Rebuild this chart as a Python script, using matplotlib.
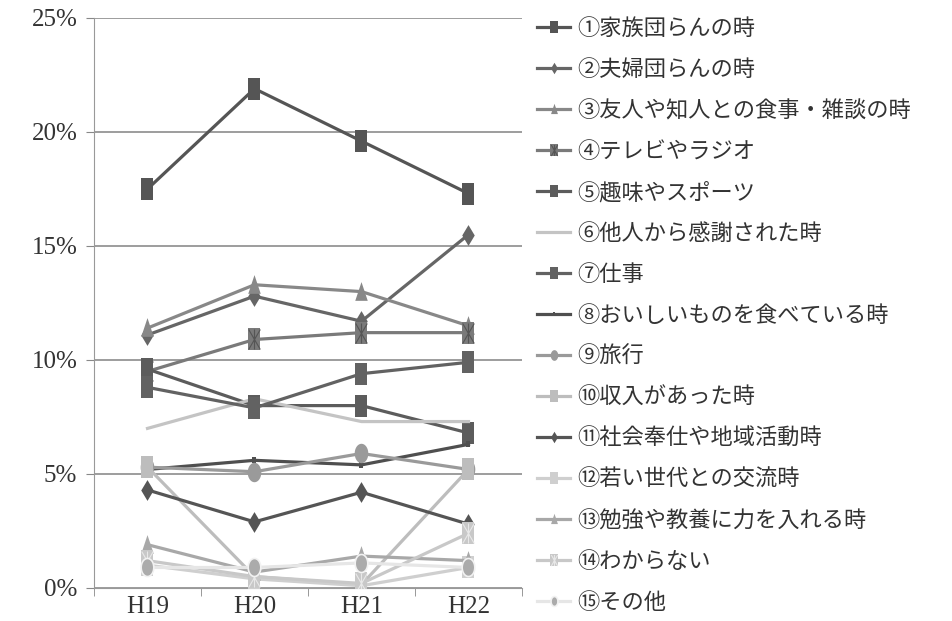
import matplotlib.pyplot as plt
import numpy as np
from matplotlib.path import Path

plt.rcParams['font.family'] = ['Noto Sans CJK JP', 'DejaVu Sans']

years = ["H19", "H20", "H21", "H22"]
labels = [
    "①家族団らんの時", "②夫婦団らんの時", "③友人や知人との食事・雑談の時",
    "④テレビやラジオ", "⑤趣味やスポーツ", "⑥他人から感謝された時", "⑦仕事",
    "⑧おいしいものを食べている時", "⑨旅行", "⑩収入があった時",
    "⑪社会奉仕や地域活動時", "⑫若い世代との交流時", "⑬勉強や教養に力を入れる時",
    "⑭わからない", "⑮その他",
]
# percent values
s01 = [17.5, 21.9, 19.6, 17.3]
s02 = [11.1, 12.8, 11.7, 15.5]
s03 = [11.4, 13.3, 13.0, 11.5]
s04 = [9.5, 10.9, 11.2, 11.2]
s05 = [9.6, 8.0, 8.0, 6.8]
s06 = [7.0, 8.3, 7.3, 7.3]
s07 = [8.8, 7.9, 9.4, 9.9]
s08 = [5.2, 5.6, 5.4, 6.3]
s09 = [5.3, 5.1, 5.9, 5.2]
s10 = [5.3, 0.5, 0.15, 5.2]
s11 = [4.3, 2.9, 4.2, 2.8]
s12 = [1.0, 0.4, 0.1, 0.9]
s13 = [1.9, 0.7, 1.4, 1.2]
s14 = [1.2, 0.5, 0.2, 2.4]
s15 = [0.9, 0.9, 1.1, 0.9]
series = [s01, s02, s03, s04, s05, s06, s07, s08, s09, s10, s11, s12, s13, s14, s15]

# squeezed marker shapes (the original picture is horizontally compressed)
sq = [(-0.58, -1), (0.58, -1), (0.58, 1), (-0.58, 1), (-0.58, -1)]
dia = [(0, -1), (0.6, 0), (0, 1), (-0.6, 0), (0, -1)]
tri = [(-0.6, -0.8), (0.6, -0.8), (0, 1), (-0.6, -0.8)]
th = np.linspace(0, 2 * np.pi, 40)
ell = list(zip(0.7 * np.cos(th), np.sin(th)))
xmark = Path([(-0.58, -1), (0.58, 1), (0.58, -1), (-0.58, 1), (0, -1), (0, 1)],
             [Path.MOVETO, Path.LINETO, Path.MOVETO, Path.LINETO, Path.MOVETO, Path.LINETO])

# line colour, marker, marker size, marker face, marker edge, overlay X colour
styles = [
    ("#555555", sq, 16, None, None, None),
    ("#666666", dia, 15, None, None, None),
    ("#888888", tri, 15, None, None, None),
    ("#7a7a7a", sq, 16, None, None, "#555555"),
    ("#5c5c5c", sq, 16, None, None, None),
    ("#c4c4c4", None, 0, None, None, None),
    ("#626262", sq, 16, None, None, None),
    ("#4f4f4f", sq, 5, None, None, None),
    ("#9a9a9a", ell, 14, None, None, None),
    ("#bdbdbd", sq, 16, None, None, None),
    ("#555555", dia, 15, None, None, None),
    ("#cfcfcf", sq, 16, None, None, None),
    ("#a8a8a8", tri, 15, None, None, None),
    ("#c8c8c8", sq, 16, None, None, "#e8e8e8"),
    ("#e6e6e6", ell, 13, "#ababab", "#f2f2f2", None),
]

fig = plt.figure(figsize=(9.53, 6.21), dpi=100)
ax = fig.add_axes([94 / 953, 1 - 588 / 621, 428 / 953, 570 / 621])

x = np.arange(len(years))
handles = []
for i, vals in enumerate(series):
    col, mk, ms, fc, ec, xcol = styles[i]
    ln, = ax.plot(x, vals, color=col, lw=2.3, marker=mk, markersize=ms,
                  markerfacecolor=fc or col, markeredgecolor=ec or col,
                  markeredgewidth=1.2 if ec else 0, zorder=3 + i)
    if xcol is not None:
        xl, = ax.plot(x, vals, ls='none', marker=xmark, markersize=ms * 0.9,
                      markerfacecolor='none', markeredgecolor=xcol,
                      markeredgewidth=0.8, zorder=3 + i)
        handles.append((ln, xl))
    else:
        handles.append(ln)

ax.set_xlim(-0.5, 3.5)
ax.set_ylim(0, 25)
ax.set_yticks([0, 5, 10, 15, 20, 25])
ax.set_yticklabels(["0%", "5%", "10%", "15%", "20%", "25%"])
ax.set_xticks(x)
ax.set_xticklabels(years)
ax.set_xticks(np.arange(-0.5, 4, 1), minor=True)
ax.tick_params(axis='x', which='major', length=0, pad=6)
ax.tick_params(axis='x', which='minor', length=6, color='#888888')
ax.tick_params(axis='y', length=6, color='#888888', pad=6)
for lab in ax.get_xticklabels() + ax.get_yticklabels():
    lab.set_fontfamily('Liberation Serif')
    lab.set_fontsize(18)
    lab.set_color('#333333')

ax.grid(axis='y', color='#8c8c8c', lw=1.2)
ax.set_axisbelow(True)
for sp in ['top', 'right']:
    ax.spines[sp].set_visible(False)
ax.spines['left'].set_color('#999999')
ax.spines['bottom'].set_color('#999999')

fig.legend(handles, labels, loc='upper left', bbox_to_anchor=(526 / 953, 1 - 6 / 621),
           frameon=False, fontsize=16, labelcolor='#333333', markerscale=0.55,
           handlelength=1.5, handletextpad=0.3, labelspacing=0.81, borderpad=0)

fig.savefig("out.png", dpi=100)
